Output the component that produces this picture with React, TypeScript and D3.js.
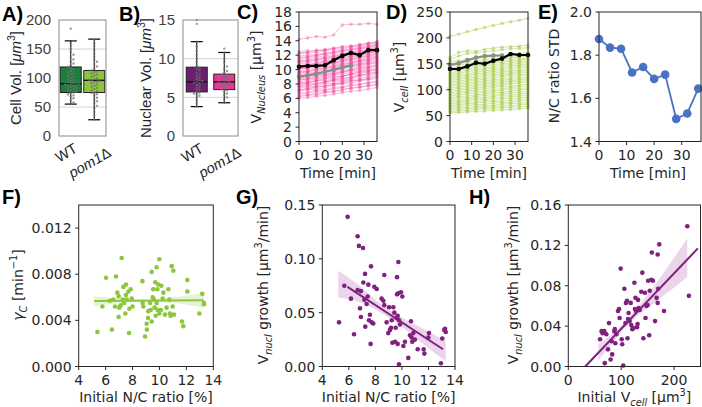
import React, { useEffect, useRef } from "react";
import * as d3 from "d3";

// ---- A / B : box plots ----
const groups = ["WT", "pom1Δ"];
// [whisker low, q1, median, q3, whisker high]
const cellVolBox = [[55, 75, 90, 119, 164], [28, 75, 96, 113, 167]];
const nucVolBox = [[3.8, 5.7, 7.0, 8.9, 12.2], [4.3, 6.0, 7.0, 8.0, 10.8]];
const cellVolWT = [55, 58, 62, 65, 68, 70, 72, 74, 75, 76, 78, 79, 80, 82, 83, 85, 86, 87, 88, 89, 90, 90, 91, 92, 93, 95, 96, 98, 100, 102, 104, 106, 108, 110, 112, 115, 117, 119, 122, 125, 128, 132, 136, 140, 145, 150, 155, 160, 164, 185];
const cellVolPom = [28, 35, 42, 48, 52, 56, 60, 63, 66, 70, 72, 74, 75, 77, 79, 81, 83, 85, 87, 89, 91, 93, 94, 95, 96, 97, 98, 100, 102, 104, 106, 108, 110, 111, 113, 116, 120, 124, 128, 132, 137, 142, 148, 155, 160, 167];
const nucVolWT = [3.8, 4.2, 4.6, 5.0, 5.2, 5.4, 5.5, 5.6, 5.8, 6.0, 6.2, 6.4, 6.6, 6.8, 6.9, 7.0, 7.1, 7.2, 7.4, 7.6, 7.8, 8.0, 8.2, 8.5, 8.7, 8.9, 9.2, 9.6, 10.0, 10.5, 11.0, 11.6, 12.2, 14.5, 15.0];
const nucVolPom = [4.3, 4.7, 5.0, 5.3, 5.5, 5.7, 5.9, 6.0, 6.1, 6.3, 6.4, 6.5, 6.6, 6.7, 6.8, 6.9, 7.0, 7.0, 7.1, 7.2, 7.3, 7.4, 7.5, 7.6, 7.8, 7.9, 8.0, 8.2, 8.4, 8.7, 9.0, 9.5, 10.0, 10.8, 11.3];

// ---- C / D / E : time courses ----
const times = [0, 4, 8, 12, 16, 20, 24, 28, 32, 36];
const nucTraces = [
  [6.0, 6.1, 6.3, 6.4, 6.6, 6.8, 7.0, 7.1, 7.3, 7.5],
  [6.2, 6.4, 6.5, 6.8, 6.9, 7.1, 7.4, 7.5, 7.7, 7.9],
  [6.4, 6.5, 6.7, 6.9, 7.0, 7.3, 7.4, 7.6, 7.8, 8.0],
  [6.6, 6.7, 7.0, 7.1, 7.3, 7.5, 7.7, 7.9, 8.1, 8.3],
  [6.8, 6.9, 7.1, 7.2, 7.5, 7.6, 7.9, 8.0, 8.2, 8.4],
  [7.0, 7.2, 7.3, 7.5, 7.8, 8.0, 8.1, 8.4, 8.6, 8.7],
  [7.1, 7.4, 7.5, 7.7, 8.0, 8.1, 8.4, 8.6, 8.7, 9.0],
  [7.2, 7.3, 7.6, 7.7, 7.9, 8.2, 8.4, 8.5, 8.8, 9.0],
  [7.4, 7.6, 7.7, 8.0, 8.1, 8.4, 8.6, 8.8, 9.0, 9.3],
  [7.6, 7.7, 7.9, 8.2, 8.4, 8.5, 8.8, 9.1, 9.2, 9.5],
  [7.7, 7.9, 8.0, 8.3, 8.5, 8.7, 8.9, 9.2, 9.4, 9.6],
  [7.8, 8.0, 8.1, 8.3, 8.6, 8.8, 9.0, 9.2, 9.5, 9.7],
  [8.0, 8.1, 8.4, 8.5, 8.7, 9.0, 9.3, 9.4, 9.7, 9.9],
  [8.1, 8.2, 8.4, 8.7, 8.9, 9.1, 9.3, 9.6, 9.8, 10.0],
  [8.2, 8.3, 8.5, 8.8, 9.0, 9.1, 9.4, 9.7, 9.9, 10.1],
  [8.3, 8.5, 8.7, 8.9, 9.2, 9.4, 9.6, 9.8, 10.1, 10.3],
  [8.5, 8.7, 8.8, 9.1, 9.3, 9.6, 9.8, 10.0, 10.2, 10.5],
  [8.6, 8.7, 9.0, 9.2, 9.4, 9.7, 9.9, 10.1, 10.4, 10.6],
  [8.7, 8.8, 9.1, 9.3, 9.5, 9.7, 10.0, 10.3, 10.4, 10.7],
  [8.8, 9.0, 9.2, 9.4, 9.7, 9.9, 10.1, 10.4, 10.7, 10.9],
  [9.0, 9.2, 9.4, 9.6, 9.8, 10.1, 10.4, 10.6, 10.8, 11.0],
  [9.1, 9.2, 9.5, 9.7, 9.9, 10.2, 10.4, 10.7, 10.9, 11.1],
  [9.2, 9.3, 9.6, 9.8, 10.0, 10.2, 10.5, 10.8, 11.0, 11.3],
  [9.3, 9.5, 9.7, 10.0, 10.2, 10.4, 10.7, 10.9, 11.2, 11.4],
  [9.5, 9.7, 9.9, 10.1, 10.4, 10.6, 10.9, 11.1, 11.3, 11.6],
  [9.6, 9.7, 10.0, 10.2, 10.4, 10.7, 10.9, 11.2, 11.4, 11.7],
  [9.7, 9.8, 10.1, 10.3, 10.5, 10.8, 11.0, 11.3, 11.5, 11.8],
  [9.8, 10.0, 10.2, 10.5, 10.7, 10.9, 11.2, 11.4, 11.7, 11.9],
  [10.0, 10.2, 10.4, 10.6, 10.9, 11.1, 11.4, 11.6, 11.8, 12.1],
  [10.1, 10.2, 10.5, 10.7, 10.9, 11.2, 11.4, 11.7, 11.9, 12.2],
  [10.2, 10.3, 10.6, 10.8, 11.0, 11.3, 11.5, 11.8, 12.0, 12.3],
  [10.4, 10.5, 10.7, 11.0, 11.2, 11.4, 11.7, 11.9, 12.2, 12.4],
  [10.5, 10.6, 10.8, 11.1, 11.3, 11.5, 11.8, 12.0, 12.3, 12.5],
  [10.6, 10.7, 10.9, 11.2, 11.4, 11.6, 11.9, 12.1, 12.3, 12.6],
  [10.8, 10.9, 11.1, 11.3, 11.6, 11.8, 12.0, 12.3, 12.5, 12.8],
  [11.0, 11.1, 11.3, 11.5, 11.7, 12.0, 12.2, 12.4, 12.7, 12.9],
  [11.1, 11.2, 11.4, 11.6, 11.8, 12.1, 12.3, 12.5, 12.8, 13.0],
  [11.2, 11.3, 11.5, 11.7, 11.9, 12.1, 12.4, 12.6, 12.8, 13.1],
  [11.4, 11.5, 11.7, 11.9, 12.1, 12.3, 12.5, 12.8, 13.0, 13.2],
  [11.6, 11.7, 11.9, 12.1, 12.3, 12.5, 12.7, 12.9, 13.1, 13.4],
  [11.7, 11.8, 12.0, 12.2, 12.4, 12.6, 12.8, 13.0, 13.2, 13.4],
  [11.9, 12.0, 12.1, 12.3, 12.5, 12.7, 12.9, 13.1, 13.3, 13.5],
  [12.2, 12.3, 12.4, 12.6, 12.8, 12.9, 13.1, 13.3, 13.5, 13.7],
  [12.3, 12.4, 12.6, 12.7, 12.9, 13.1, 13.2, 13.4, 13.6, 13.8],
  [12.5, 12.6, 12.7, 12.8, 13.0, 13.2, 13.3, 13.5, 13.7, 13.9],
  [14.2, 14.4, 14.6, 14.5, 14.8, 16.2, 16.3, 16.3, 16.4, 16.3],
];
const nucMean = [10.4, 10.5, 10.5, 10.6, 11.3, 11.9, 12.3, 12.0, 12.7, 12.7];
const nucRef = [9.0, 9.2, 9.4, 9.7, 10.0, 10.3, 10.6];

const cellTraces = [
  [55, 56, 57, 58, 59, 60, 61, 62, 63, 65],
  [58, 59, 60, 62, 63, 64, 65, 66, 67, 68],
  [61, 62, 63, 65, 66, 67, 68, 69, 71, 72],
  [64, 65, 66, 68, 69, 70, 72, 73, 74, 75],
  [67, 68, 70, 71, 72, 74, 75, 76, 78, 79],
  [70, 71, 73, 74, 76, 77, 78, 80, 81, 83],
  [73, 74, 76, 77, 79, 80, 82, 83, 85, 86],
  [76, 77, 79, 81, 82, 84, 85, 87, 88, 90],
  [79, 80, 82, 84, 85, 87, 89, 90, 92, 93],
  [82, 84, 85, 87, 89, 90, 92, 94, 95, 97],
  [85, 87, 88, 90, 92, 94, 95, 97, 99, 101],
  [88, 90, 92, 93, 95, 97, 99, 101, 102, 104],
  [91, 93, 95, 97, 98, 100, 102, 104, 106, 108],
  [94, 96, 98, 100, 102, 104, 106, 107, 109, 111],
  [97, 99, 101, 103, 105, 107, 109, 111, 113, 115],
  [100, 102, 104, 106, 108, 110, 112, 114, 116, 118],
  [103, 105, 107, 109, 111, 113, 115, 117, 119, 121],
  [106, 108, 110, 112, 114, 116, 118, 120, 122, 124],
  [109, 111, 113, 115, 117, 119, 121, 123, 126, 128],
  [112, 114, 116, 118, 120, 122, 125, 127, 129, 131],
  [115, 117, 119, 121, 123, 126, 128, 130, 132, 134],
  [118, 120, 122, 124, 127, 129, 131, 133, 135, 137],
  [121, 123, 125, 128, 130, 132, 134, 136, 138, 141],
  [124, 126, 128, 131, 133, 135, 137, 139, 142, 144],
  [127, 129, 131, 134, 136, 138, 140, 143, 145, 147],
  [130, 132, 135, 137, 139, 141, 143, 146, 148, 150],
  [133, 135, 138, 140, 142, 144, 147, 149, 151, 153],
  [136, 138, 141, 143, 145, 148, 150, 152, 154, 156],
  [139, 141, 144, 146, 148, 151, 153, 155, 157, 159],
  [142, 144, 147, 149, 151, 154, 156, 158, 160, 162],
  [146, 148, 150, 153, 155, 157, 159, 161, 163, 165],
  [150, 152, 154, 156, 158, 160, 162, 164, 166, 168],
  [154, 156, 158, 160, 162, 164, 166, 168, 170, 172],
  [158, 165, 170, 171, 173, 175, 177, 179, 180, 181],
  [162, 172, 175, 174, 178, 180, 182, 183, 184, 186],
  [203, 207, 212, 216, 220, 224, 228, 231, 234, 238],
];
const cellMean = [140, 140, 145, 152, 150, 156, 160, 169, 167, 167];
const cellRef = [148, 151, 157, 162, 165, 166, 166];

const ncStd = [1.875, 1.835, 1.83, 1.72, 1.745, 1.69, 1.71, 1.505, 1.53, 1.645];

// ---- F / G / H : scatter + regression ----
const gammaPts = [
  [5.39, 0.003], [5.76, 0.0052], [6.03, 0.0077], [6.33, 0.0057], [6.47, 0.0032], [6.57, 0.0058], [6.7, 0.0052],
  [6.77, 0.0078], [6.87, 0.0064], [6.97, 0.0061], [6.97, 0.0043], [7.02, 0.0051], [7.12, 0.0053], [7.19, 0.0094],
  [7.27, 0.0058], [7.32, 0.0069], [7.37, 0.0055], [7.47, 0.0046], [7.51, 0.0071], [7.51, 0.0062], [7.56, 0.0058],
  [7.69, 0.0065], [7.74, 0.0029], [7.76, 0.005], [7.86, 0.0067], [7.94, 0.0059], [8.0, 0.0052], [8.73, 0.0074],
  [8.75, 0.0055], [8.8, 0.0052], [8.93, 0.0026], [9.05, 0.0037], [9.07, 0.0032], [9.15, 0.0042], [9.17, 0.0048],
  [9.3, 0.0055], [9.35, 0.0049], [9.42, 0.0082], [9.42, 0.0039], [9.5, 0.006], [9.54, 0.0067], [9.59, 0.0058],
  [9.64, 0.0051], [9.69, 0.0073], [9.72, 0.0044], [9.79, 0.0086], [9.79, 0.0055], [9.84, 0.0067], [9.87, 0.0049],
  [9.92, 0.0071], [9.99, 0.0093], [9.99, 0.0046], [10.11, 0.0049], [10.14, 0.007], [10.24, 0.0059], [10.29, 0.0064],
  [10.41, 0.0045], [10.53, 0.0051], [10.66, 0.0067], [10.73, 0.0058], [10.78, 0.0046], [10.83, 0.0044], [10.91, 0.0087],
  [10.98, 0.0052], [11.03, 0.0083], [11.08, 0.0045], [11.67, 0.0039], [11.77, 0.0035], [12.07, 0.0075], [12.07, 0.0065],
  [12.96, 0.0046], [13.18, 0.0063], [13.31, 0.0055], [13.31, 0.0054],
];
const gammaFitX = [5.15, 13.3];
const gammaFitY = [0.00568, 0.00575];
const gammaBandX = [5.15, 7, 9, 11, 13.3];
const gammaBandLo = [0.0052, 0.0055, 0.0056, 0.0055, 0.0051];
const gammaBandHi = [0.0061, 0.0059, 0.0058, 0.006, 0.0064];

const nucGrowthPts = [
  [5.26, 0.041], [5.66, 0.075], [5.91, 0.139], [6.16, 0.063], [6.39, 0.03], [6.66, 0.121], [6.76, 0.112],
  [7.07, 0.11], [6.66, 0.071], [6.91, 0.07], [6.84, 0.054], [6.91, 0.046], [7.09, 0.078], [7.17, 0.062],
  [7.22, 0.086], [7.24, 0.037], [7.34, 0.058], [7.42, 0.065], [7.47, 0.076], [7.52, 0.043], [7.59, 0.048],
  [7.64, 0.021], [7.67, 0.093], [7.72, 0.041], [7.84, 0.04], [7.92, 0.074], [8.1, 0.072], [8.47, 0.063],
  [8.6, 0.061], [8.67, 0.085], [8.67, 0.057], [8.85, 0.041], [8.97, 0.031], [9.03, 0.055], [9.1, 0.034],
  [9.18, 0.036], [9.23, 0.043], [9.28, 0.022], [9.35, 0.055], [9.43, 0.05], [9.48, 0.023], [9.53, 0.036],
  [9.6, 0.045], [9.63, 0.067], [9.63, 0.083], [9.68, 0.047], [9.68, 0.021], [9.73, 0.097], [9.73, 0.068],
  [9.78, 0.043], [9.78, 0.002], [9.85, 0.039], [9.93, 0.069], [10.03, 0.065], [10.11, 0.019], [10.23, 0.023],
  [10.48, 0.008], [10.61, 0.029], [10.68, 0.042], [10.73, 0.027], [10.78, 0.023], [10.86, 0.031], [10.98, 0.025],
  [11.19, 0.016], [11.64, 0.016], [11.69, 0.012], [11.99, 0.027], [12.04, 0.031], [12.94, 0.003], [13.04, 0.026],
  [13.19, 0.034], [13.25, 0.035], [13.3, 0.032],
];
const nucFitX = [5.9, 13.1];
const nucFitY = [0.074, 0.016];
const nucBandX = [5.2, 6.5, 8, 9.5, 11, 12.2, 13.3];
const nucBandLo = [0.064, 0.061, 0.053, 0.041, 0.027, 0.015, 0.005];
const nucBandHi = [0.089, 0.078, 0.062, 0.049, 0.039, 0.031, 0.024];

const cellGrowthPts = [
  [69, 0.0033], [60, 0.027], [63, 0.035], [65, 0.033], [68, 0.035], [72, 0.032], [75, 0.017], [77, 0.043],
  [80, 0.007], [82, 0.025], [83, 0.012], [87, 0.035], [88, 0.037], [89, 0.023], [91, 0.032], [94, 0.055],
  [96, 0.057], [97, 0.048], [99, 0.097], [101, 0.027], [102, 0.022], [104, 0.001], [106, 0.077], [108, 0.043],
  [109, 0.063], [111, 0.065], [112, 0.028], [113, 0.047], [114, 0.053], [116, 0.045], [118, 0.063], [119, 0.041],
  [121, 0.037], [123, 0.038], [125, 0.083], [126, 0.057], [127, 0.068], [128, 0.055], [130, 0.039], [131, 0.042],
  [132, 0.066], [133, 0.058], [135, 0.056], [138, 0.074], [140, 0.093], [142, 0.028], [145, 0.073], [146, 0.048],
  [148, 0.06], [150, 0.061], [151, 0.085], [153, 0.031], [154, 0.075], [157, 0.086], [160, 0.085], [164, 0.045],
  [167, 0.068], [169, 0.063], [170, 0.077], [181, 0.055], [158, 0.113], [169, 0.111], [172, 0.121], [225, 0.139],
  [228, 0.07],
];
const cellFitX = [32, 245];
const cellFitY = [0, 0.117];
const cellBandX = [57, 80, 105, 130, 160, 190, 225];
const cellBandLo = [0.006, 0.021, 0.037, 0.05, 0.062, 0.074, 0.089];
const cellBandHi = [0.022, 0.031, 0.043, 0.058, 0.078, 0.1, 0.127];

const INK = "#262626";
const MPL = "DejaVu Sans, sans-serif";
const MAT = "Liberation Sans, Arial, sans-serif";
const PURPLE = "#80207f";
const LIME = "#8cc63f";

// text with sub/superscripts, parts: [text, kind] where kind "", "sub", "sup", "i", "isub"
const rich = (sel, parts, size) => {
  let shift = 0;
  parts.forEach(([t, kind]) => {
    const small = kind === "sub" || kind === "sup" || kind === "isub";
    const target = kind === "sub" || kind === "isub" ? size * 0.3 : kind === "sup" ? -size * 0.4 : 0;
    const ts = sel.append("tspan").attr("dy", target - shift).attr("font-size", small ? size * 0.7 : size).text(t);
    if (kind === "i" || kind === "isub") ts.attr("font-style", "italic");
    shift = target;
  });
};

const mplAxes = (g, x, y, xTicks, yTicks, xFmt, yFmt) => {
  const [x0, x1] = x.range();
  const [y0, y1] = y.range();
  g.append("rect").attr("x", x0).attr("y", y1).attr("width", x1 - x0).attr("height", y0 - y1)
    .attr("fill", "none").attr("stroke", INK).attr("stroke-width", 1);
  xTicks.forEach((t) => {
    g.append("line").attr("x1", x(t)).attr("x2", x(t)).attr("y1", y0).attr("y2", y0 + 3.5).attr("stroke", INK);
    g.append("text").attr("x", x(t)).attr("y", y0 + 18).attr("text-anchor", "middle")
      .attr("font-family", MPL).attr("font-size", 14).attr("fill", INK).text(xFmt(t));
  });
  yTicks.forEach((t) => {
    g.append("line").attr("x1", x0 - 3.5).attr("x2", x0).attr("y1", y(t)).attr("y2", y(t)).attr("stroke", INK);
    g.append("text").attr("x", x0 - 7).attr("y", y(t)).attr("dy", "0.36em").attr("text-anchor", "end")
      .attr("font-family", MPL).attr("font-size", 14).attr("fill", INK).text(yFmt(t));
  });
};

const swarm = (vals, y, r) => {
  const placed = [];
  return vals.map((v) => {
    const py = y(v);
    let dx = 0;
    for (let k = 0; k < 12; k++) {
      const cand = k === 0 ? 0 : (k % 2 ? 1 : -1) * Math.ceil(k / 2) * r * 2.1;
      if (placed.every((p) => Math.hypot(p[0] - cand, p[1] - py) >= r * 2)) { dx = cand; break; }
      dx = cand;
    }
    placed.push([dx, py]);
    return [dx, py];
  });
};

const App = () => {
  const svgRef = useRef(null);

  useEffect(() => {
    const svg = d3.select(svgRef.current);
    svg.selectAll("*").remove();

    // panel letters
    [["A)", 2, 21], ["B)", 119, 21], ["C)", 237, 19], ["D)", 386, 19], ["E)", 538, 19],
     ["F)", 2, 204], ["G)", 236, 204], ["H)", 469, 204]].forEach(([t, x, y]) => {
      svg.append("text").attr("x", x).attr("y", y).attr("font-family", MAT).attr("font-weight", "bold")
        .attr("font-size", 20).attr("fill", "#000").text(t);
    });

    // ---------- A & B box plots ----------
    const labelCentreY = [157, 167];
    const boxPanel = (left, right, yMax, yTicks, grid, stats, samples, colors, ylabel, ylx) => {
      const g = svg.append("g");
      const x = d3.scalePoint().domain(groups).range([left, right]).padding(0.5);
      const y = d3.scaleLinear().domain([0, yMax]).range([136, 20]);
      grid.forEach((t) => {
        g.append("line").attr("x1", left).attr("x2", right).attr("y1", y(t)).attr("y2", y(t))
          .attr("stroke", "#d4d4d4").attr("stroke-width", 1);
      });
      const bw = 21;
      groups.forEach((grp, i) => {
        const [lo, q1, med, q3, hi] = stats[i];
        const cx = x(grp);
        g.append("line").attr("x1", cx).attr("x2", cx).attr("y1", y(lo)).attr("y2", y(hi)).attr("stroke", "#000");
        [lo, hi].forEach((v) => {
          g.append("line").attr("x1", cx - 6).attr("x2", cx + 6).attr("y1", y(v)).attr("y2", y(v)).attr("stroke", "#000").attr("stroke-width", 1.2);
        });
        g.append("rect").attr("x", cx - bw / 2).attr("y", y(q3)).attr("width", bw).attr("height", y(q1) - y(q3))
          .attr("fill", colors[i]).attr("stroke", "#222").attr("stroke-width", 1);
        g.append("line").attr("x1", cx - bw / 2).attr("x2", cx + bw / 2).attr("y1", y(med)).attr("y2", y(med))
          .attr("stroke", "#111").attr("stroke-width", 1.4);
        swarm(samples[i], y, 1.3).forEach(([dx, py]) => {
          g.append("circle").attr("cx", cx + dx).attr("cy", py).attr("r", 1.2)
            .attr("fill", "#707070").attr("fill-opacity", 0.7);
        });
        const lab = g.append("text").attr("text-anchor", "middle").attr("dy", "0.35em")
          .attr("transform", `translate(${cx - 2},${labelCentreY[i]}) rotate(-30)`)
          .attr("font-family", MAT).attr("font-size", 14.5).attr("fill", INK);
        if (i === 0) rich(lab, [["WT", ""]], 14.5);
        else rich(lab, [["pom1", "i"], ["Δ", ""]], 14.5);
      });
      g.append("rect").attr("x", left).attr("y", 20).attr("width", right - left).attr("height", 116)
        .attr("fill", "none").attr("stroke", "#8a8a8a").attr("stroke-width", 1);
      yTicks.forEach((t) => {
        g.append("text").attr("x", left - 8).attr("y", y(t)).attr("dy", "0.35em").attr("text-anchor", "end")
          .attr("font-family", MAT).attr("font-size", 15).attr("fill", "#404040").text(t);
      });
      const yl = g.append("text").attr("text-anchor", "middle")
        .attr("transform", `translate(${ylx},78) rotate(-90)`)
        .attr("font-family", MAT).attr("font-size", 15).attr("fill", INK);
      rich(yl, [[ylabel + " [", ""], ["μm", "i"], ["3", "sup"], ["]", ""]], 15);
    };
    boxPanel(59, 106, 200, [0, 50, 100, 150, 200], [50, 100, 150], cellVolBox, [cellVolWT, cellVolPom],
      ["#1b7f3d", LIME], "Cell Vol.", 21);
    boxPanel(183, 238, 15, [0, 5, 10, 15], [5, 10], nucVolBox, [nucVolWT, nucVolPom],
      ["#6c1f71", "#e8399b"], "Nuclear Vol.", 151);

    // ---------- C & D traces ----------
    const tracePanel = (left, right, yMax, yTicks, traces, mean, ref, color, opacity, ylabelParts, ylx) => {
      const g = svg.append("g");
      const x = d3.scaleLinear().domain([0, 36]).range([left, right]);
      const y = d3.scaleLinear().domain([0, yMax]).range([141.5, 12]);
      const line = d3.line().x((d, i) => x(times[i])).y((d) => y(d));
      traces.forEach((tr) => {
        g.append("path").attr("d", line(tr)).attr("fill", "none").attr("stroke", color)
          .attr("stroke-opacity", opacity).attr("stroke-width", 1);
        tr.forEach((v, i) => {
          g.append("circle").attr("cx", x(times[i])).attr("cy", y(v)).attr("r", 1.8)
            .attr("fill", color).attr("fill-opacity", opacity);
        });
      });
      [[ref, "#8c8c8c"], [mean, "#000"]].forEach(([s, c]) => {
        g.append("path").attr("d", line(s)).attr("fill", "none").attr("stroke", c).attr("stroke-width", 2.2);
        s.forEach((v, i) => {
          g.append("circle").attr("cx", x(times[i])).attr("cy", y(v)).attr("r", 2.3).attr("fill", c);
        });
      });
      mplAxes(g, x, y, [0, 10, 20, 30], yTicks, (d) => d, (d) => d);
      g.append("text").attr("x", (left + right) / 2).attr("y", 178).attr("text-anchor", "middle")
        .attr("font-family", MPL).attr("font-size", 14).attr("fill", INK).text("Time [min]");
      const yl = g.append("text").attr("text-anchor", "middle")
        .attr("transform", `translate(${ylx},77) rotate(-90)`)
        .attr("font-family", MPL).attr("font-size", 14).attr("fill", INK);
      rich(yl, ylabelParts, 14);
    };
    tracePanel(299, 377, 18, d3.range(0, 19, 2), nucTraces, nucMean, nucRef, "#ec3f98", 0.35,
      [["V", ""], ["Nucleus", "isub"], [" [μm", ""], ["3", "sup"], ["]", ""]], 261);
    tracePanel(450, 528, 250, d3.range(0, 251, 50), cellTraces, cellMean, cellRef, "#a3cc45", 0.5,
      [["V", ""], ["cell", "isub"], [" [μm", ""], ["3", "sup"], ["]", ""]], 404);

    // ---------- E ----------
    {
      const g = svg.append("g");
      const x = d3.scaleLinear().domain([0, 37]).range([599, 701]);
      const y = d3.scaleLinear().domain([1.4, 2.0]).range([141.5, 12]);
      const line = d3.line().x((d, i) => x(times[i])).y((d) => y(d));
      g.append("path").attr("d", line(ncStd)).attr("fill", "none").attr("stroke", "#4a72c4").attr("stroke-width", 1.8);
      ncStd.forEach((v, i) => {
        g.append("circle").attr("cx", x(times[i])).attr("cy", y(v)).attr("r", 4.3).attr("fill", "#4a72c4");
      });
      mplAxes(g, x, y, [0, 10, 20, 30], [1.4, 1.6, 1.8, 2.0], (d) => d, d3.format(".1f"));
      g.append("text").attr("x", 648).attr("y", 178).attr("text-anchor", "middle")
        .attr("font-family", MPL).attr("font-size", 14).attr("fill", INK).text("Time [min]");
      g.append("text").attr("text-anchor", "middle").attr("transform", "translate(559,76) rotate(-90)")
        .attr("font-family", MPL).attr("font-size", 14).attr("fill", INK).text("N/C ratio STD");
    }

    // ---------- F, G, H ----------
    const scatterPanel = (x, y, pts, color, fitX, fitY, bandX, bandLo, bandHi, bandColor, xTicks, yTicks, xFmt, yFmt, xlabelParts, ylabelParts, ylx) => {
      const g = svg.append("g");
      const area = d3.area().x((d) => x(d[0])).y0((d) => y(d[1])).y1((d) => y(d[2])).curve(d3.curveMonotoneX);
      g.append("path").attr("d", area(bandX.map((v, i) => [v, bandLo[i], bandHi[i]])))
        .attr("fill", bandColor).attr("fill-opacity", 0.22);
      pts.forEach(([px, py]) => {
        g.append("circle").attr("cx", x(px)).attr("cy", y(py)).attr("r", 2.3).attr("fill", color);
      });
      g.append("line").attr("x1", x(fitX[0])).attr("x2", x(fitX[1])).attr("y1", y(fitY[0])).attr("y2", y(fitY[1]))
        .attr("stroke", color).attr("stroke-width", 2);
      mplAxes(g, x, y, xTicks, yTicks, xFmt, yFmt);
      const [x0, x1] = x.range();
      const xl = g.append("text").attr("x", (x0 + x1) / 2).attr("y", 402).attr("text-anchor", "middle")
        .attr("font-family", MPL).attr("font-size", 14).attr("fill", INK);
      rich(xl, xlabelParts, 14);
      const yl = g.append("text").attr("text-anchor", "middle")
        .attr("transform", `translate(${ylx},285) rotate(-90)`)
        .attr("font-family", MPL).attr("font-size", 14).attr("fill", INK);
      rich(yl, ylabelParts, 14);
    };
    const nTicks = [4, 6, 8, 10, 12, 14];
    scatterPanel(
      d3.scaleLinear().domain([4, 14]).range([78.7, 213.3]),
      d3.scaleLinear().domain([0, 0.014]).range([366.5, 205]),
      gammaPts, LIME, gammaFitX, gammaFitY, gammaBandX, gammaBandLo, gammaBandHi, LIME,
      nTicks, [0, 0.004, 0.008, 0.012], (d) => d, d3.format(".3f"),
      [["Initial N/C ratio [%]", ""]],
      [["γ", "i"], ["C", "isub"], [" [min", ""], ["−1", "sup"], ["]", ""]], 23);
    scatterPanel(
      d3.scaleLinear().domain([4, 14]).range([322.3, 455]),
      d3.scaleLinear().domain([0, 0.15]).range([366.5, 205]),
      nucGrowthPts, PURPLE, nucFitX, nucFitY, nucBandX, nucBandLo, nucBandHi, "#a33ea6",
      nTicks, [0, 0.05, 0.1, 0.15], (d) => d, d3.format(".2f"),
      [["Initial N/C ratio [%]", ""]],
      [["V", ""], ["nucl", "isub"], [" growth [μm", ""], ["3", "sup"], ["/min]", ""]], 268);
    scatterPanel(
      d3.scaleLinear().domain([0, 250]).range([568.3, 700.5]),
      d3.scaleLinear().domain([0, 0.16]).range([366.5, 205]),
      cellGrowthPts, PURPLE, cellFitX, cellFitY, cellBandX, cellBandLo, cellBandHi, "#a33ea6",
      [0, 100, 200], [0, 0.04, 0.08, 0.12, 0.16], (d) => d, d3.format(".2f"),
      [["Initial V", ""], ["cell", "isub"], [" [μm", ""], ["3", "sup"], ["]", ""]],
      [["V", ""], ["nucl", "isub"], [" growth [μm", ""], ["3", "sup"], ["/min]", ""]], 518);
  }, []);

  return (
    <svg ref={svgRef} width={702} height={407}
      style={{ position: "absolute", left: 0, top: 0, background: "#fff" }} />
  );
};

export default App;
